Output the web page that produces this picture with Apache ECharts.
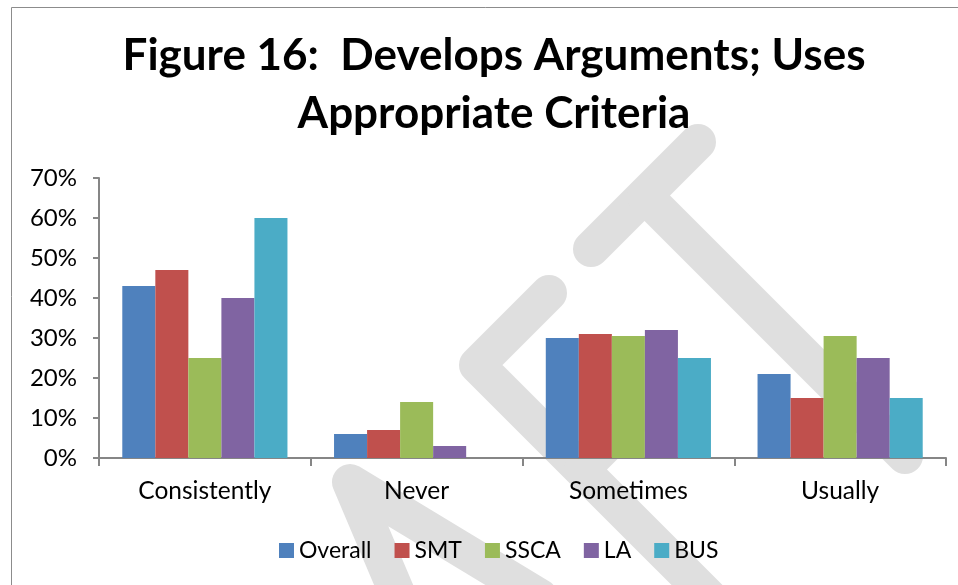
<!DOCTYPE html>
<html>
<head>
<meta charset="utf-8">
<script src="https://cdn.jsdelivr.net/npm/echarts@6/dist/echarts.min.js"></script>
<style>
  html, body { margin: 0; padding: 0; background: #fff; }
  #chart { width: 958px; height: 585px; }
</style>
</head>
<body>
<div id="chart"></div>
<script>
// categories and series values (percent)
var categories = ["Consistently", "Never", "Sometimes", "Usually"];
var seriesNames = ["Overall", "SMT", "SSCA", "LA", "BUS"];
var overall = [43, 6, 30, 21];
var smt = [47, 7, 31, 15];
var ssca = [25, 14, 30.5, 30.5];
var la = [40, 3, 32, 25];
var bus = [60, 0, 25, 15];
var colors = ["#4F81BD", "#C0504D", "#9BBB59", "#8064A2", "#4BACC6"];

var font = "Lato, 'Open Sans', sans-serif";

// grey watermark strokes behind the chart
var wmColor = "#DFDFDF";
function stroke(points) {
  return {
    type: "polyline",
    z: -10,
    silent: true,
    shape: { points: points },
    style: { stroke: wmColor, lineWidth: 36, lineCap: "round", lineJoin: "round", fill: null }
  };
}

var allData = [overall, smt, ssca, la, bus];
var series = [];
for (var i = 0; i < seriesNames.length; i++) {
  series.push({
    name: seriesNames[i],
    type: "bar",
    barGap: "0%",
    barCategoryGap: "22%",
    itemStyle: { color: colors[i] },
    data: allData[i]
  });
}

var myChart = echarts.init(document.getElementById("chart"));
var option = {
  animation: false,
  color: colors,
  title: {
    text: "Figure 16:  Develops Arguments; Uses\nAppropriate Criteria",
    left: 489,
    top: 22,
    textAlign: "center",
    textStyle: {
      fontFamily: font,
      fontWeight: "bold",
      fontSize: 44,
      lineHeight: 58,
      color: "#000"
    }
  },
  legend: {
    data: seriesNames,
    left: 274,
    top: 534,
    itemWidth: 15,
    itemHeight: 15,
    itemGap: 23,
    icon: "rect",
    textStyle: { fontFamily: font, fontSize: 23, color: "#000" }
  },
  grid: {
    left: 99,
    right: 12,
    top: 178,
    bottom: 127,
    containLabel: false
  },
  xAxis: {
    type: "category",
    data: categories,
    axisLine: { lineStyle: { color: "#868686", width: 2 } },
    axisTick: { show: true, length: 8, lineStyle: { color: "#868686", width: 2 } },
    axisLabel: { fontFamily: font, fontSize: 24.5, color: "#000", margin: 21 }
  },
  yAxis: {
    type: "value",
    min: 0,
    max: 70,
    interval: 10,
    axisLine: { show: true, lineStyle: { color: "#868686", width: 2 } },
    axisTick: { show: true, length: 6, lineStyle: { color: "#868686", width: 2 } },
    splitLine: { show: false },
    axisLabel: { fontFamily: font, fontSize: 24, color: "#000", margin: 22, formatter: "{value}%" }
  },
  graphic: [
    {
      type: "rect",
      z: -20,
      silent: true,
      shape: { x: 11.5, y: 7.5, width: 1000, height: 700 },
      style: { stroke: "#8C8C8C", lineWidth: 1, fill: "#fff" }
    },
    stroke([[591, 249], [698, 142]]),
    stroke([[645, 196], [905, 456]]),
    stroke([[549, 293], [477, 365], [730, 618]]),
    stroke([[582, 469], [630, 421]]),
    stroke([[400, 600], [350, 482], [540, 597]])
  ],
  series: series
};
myChart.setOption(option);
</script>
</body>
</html>
